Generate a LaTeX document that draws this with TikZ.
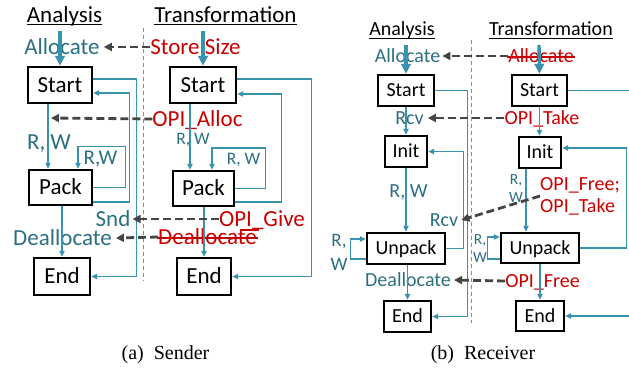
\documentclass[tikz,border=0pt]{standalone}
\usepackage{fontspec}
\setmainfont{Carlito}
\newfontfamily\capfont{Liberation Serif}
\usetikzlibrary{arrows.meta}

\definecolor{tealline}{HTML}{3A93AD}
\definecolor{tealtext}{HTML}{2B6F82}
\definecolor{opired}{HTML}{C80000}
\definecolor{hintgray}{HTML}{454545}
\definecolor{sepgray}{HTML}{8A8A8A}

\begin{document}
\begin{tikzpicture}[x=1pt,y=-1pt,
  lbl/.style={inner sep=0pt},
  fA/.style={font=\fontsize{23}{27}\selectfont, text height=14.8pt, text depth=0pt},
  fB/.style={font=\fontsize{20}{24}\selectfont, text height=12.9pt, text depth=0pt},
  fM/.style={font=\fontsize{21}{25}\selectfont, text height=13.5pt, text depth=0pt},
  fS/.style={font=\fontsize{17.5}{21}\selectfont, text height=11.3pt, text depth=0pt},
  box/.style={draw=black, line width=2.4pt, inner sep=0pt},
  ana/.style={lbl, text=tealtext},
  opi/.style={lbl, text=opired},
  hdr/.style={lbl, anchor=base},
  uline/.style={line width=1.3pt},
  strike/.style={draw=opired, line width=1.2pt},
  flow/.style={draw=tealline, line width=1.3pt, -{Triangle[length=6pt,width=5.5pt]}},
  entry/.style={draw=tealline, line width=3.4pt, -{Triangle[length=10pt,width=9.5pt]}},
  hint/.style={draw=hintgray, line width=2.8pt, dash pattern=on 8pt off 4pt, -{Triangle[length=8pt,width=8pt]}},
  sep/.style={draw=sepgray, line width=0.9pt, dash pattern=on 4pt off 3pt},
  captext/.style={lbl, font=\capfont\fontsize{20}{24}\selectfont},
]
\useasboundingbox (0,0) rectangle (629,367);
\clip (0,0) rectangle (629,367);

% separators between analysis and transformation
\draw[sep] (143,28) -- (143,281);
\draw[sep] (471,40) -- (471,323);

% ---------------- (a) Sender ----------------
\node[hdr, font=\fontsize{23}{27}\selectfont] (hA1) at (64.5,22) {Analysis};
\node[hdr, font=\fontsize{23}{27}\selectfont] (hA2) at (225.5,22) {Transformation};
\draw[uline] ([yshift=-2.5pt]hA1.base west) -- ([yshift=-2.5pt]hA1.base east);
\draw[uline] ([yshift=-2.5pt]hA2.base west) -- ([yshift=-2.5pt]hA2.base east);

\node[box, fA, minimum width=64pt, minimum height=36pt] (sA) at (60,85) {Start};
\node[box, fA, minimum width=63pt, minimum height=35pt] (pA) at (60.5,187.5) {Pack};
\node[box, fA, minimum width=56pt, minimum height=37pt] (eA) at (62,276.5) {End};
\node[box, fA, minimum width=66pt, minimum height=36pt] (sT) at (203,85) {Start};
\node[box, fA, minimum width=61pt, minimum height=35pt] (pT) at (203.5,188.5) {Pack};
\node[box, fA, minimum width=54pt, minimum height=37pt] (eT) at (204,276.5) {End};

\node[ana, fA] (allocA) at (62,47) {Allocate};
\node[opi, fA] (storeT) at (195.5,47) {Store Size};
\node[opi, fA] (opiAlloc) at (197.5,119) {OPI\_Alloc};
\node[ana, fA] (rwA1) at (49,142) {R, W};
\node[ana, fM] (rwA2) at (100.5,158) {R,W};
\node[ana, fS] (rwT1) at (193,139) {R, W};
\node[ana, fS] (rwT2) at (243.5,159) {R, W};
\node[ana, fA] (snd) at (113,219) {Snd};
\node[ana, fA] (deallocA) at (62.5,238) {Deallocate};
\node[opi, fA] (opiGive) at (262,219) {OPI\_Give};
\node[opi, fA] (deallocT) at (207.5,237) {Deallocate};
\draw[strike] ([xshift=-1pt,yshift=-1pt]deallocT.west) -- ([xshift=1pt,yshift=-1pt]deallocT.east);
\draw[strike] ([xshift=-17pt,yshift=7pt]deallocT.east) -- ([xshift=2pt,yshift=7pt]deallocT.east);

\coordinate (inA) at (60,31);
\coordinate (inT) at (203,31);
\draw[entry] (inA) -- (sA.north);
\draw[entry] (inT) -- (sT.north);

% analysis flow
\draw[flow] ([xshift=-12pt]sA.south) -- ([xshift=-12pt]sA.south |- pA.north);
\draw[flow] (pA.south -| eA.north) -- (eA.north);
\draw[flow] ([yshift=6pt]sA.east) -- ++(43,0) |- (eA.east);
\draw[flow] ([yshift=-14.5pt]pA.east) -- ++(36,0) |- ([yshift=-8pt]sA.east);
\draw[flow] (pA.east) -- ++(32,0) -- ++(0,-41) -| ([xshift=17.5pt]pA.north);

% transformation flow
\draw[flow] ([xshift=-13pt]sT.south) -- ([xshift=-13pt]sT.south |- pT.north);
\draw[flow] (pT.south -| eT.north) -- (eT.north);
\draw[flow] ([yshift=6pt]sT.east) -- ++(74,0) |- (eT.east);
\draw[flow] ([yshift=-13.5pt]pT.east) -- ++(46,0) |- ([yshift=-9pt]sT.east);
\draw[flow] (pT.east) -- ++(30,0) -- ++(0,-40.5) -| ([xshift=8.5pt]pT.north);

% OPI hints
\coordinate (allocTip) at (51,118);
\draw[hint] (storeT.west) -- ([xshift=4pt]allocA.east);
\draw[hint] (opiAlloc.west) -- (allocTip);
\draw[hint] (opiGive.west) -- ([xshift=2pt]snd.east);
\draw[hint] (deallocT.west) -- ([xshift=4pt]deallocA.east);

\node[captext] (capA) at (165.5,355) {(a)\enspace Sender};

% ---------------- (b) Receiver ----------------
\node[hdr, font=\fontsize{20}{24}\selectfont] (hB1) at (402,35.5) {Analysis};
\node[hdr, font=\fontsize{20}{24}\selectfont] (hB2) at (551,35.5) {Transformation};
\draw[uline] ([yshift=-3pt]hB1.base west) -- ([yshift=-3pt]hB1.base east);
\draw[uline] ([yshift=-3pt]hB2.base west) -- ([yshift=-3pt]hB2.base east);

\node[box, fB, minimum width=56pt, minimum height=31pt] (sB) at (406,90.5) {Start};
\node[box, fB, minimum width=42pt, minimum height=31pt] (iB) at (406,151.5) {Init};
\node[box, fB, minimum width=78pt, minimum height=31pt] (uB) at (406,248.5) {Unpack};
\node[box, fB, minimum width=47pt, minimum height=31pt] (eB) at (407.5,316.5) {End};
\node[box, fB, minimum width=55pt, minimum height=31pt] (sR) at (539.5,90.5) {Start};
\node[box, fB, minimum width=42pt, minimum height=31pt] (iR) at (540,152.5) {Init};
\node[box, fB, minimum width=78pt, minimum height=30pt] (uR) at (540,248) {Unpack};
\node[box, fB, minimum width=48pt, minimum height=30pt] (eR) at (540,316) {End};

\node[ana, fB] (allocB) at (407.5,56) {Allocate};
\node[opi, fB] (allocR) at (541,56) {Allocate};
\draw[strike] ([xshift=-1pt,yshift=-1pt]allocR.west) -- ([xshift=1pt,yshift=-1pt]allocR.east);
\node[ana, fB] (rcvB1) at (409.5,118) {Rcv};
\node[opi, fB] (opiTake) at (542,118) {OPI\_Take};
\node[ana, fB] (rwB1) at (408.5,191) {R, W};
\node[ana, fB] (rcvB2) at (444,220) {Rcv};
\node[opi, anchor=west, align=left, font=\fontsize{20}{22}\selectfont] (opiFT) at (540,196) {OPI\_Free;\\OPI\_Take};
\node[ana, align=center, font=\fontsize{15.5}{18}\selectfont] (rwR1) at (516,189) {R,\\W};
\node[ana, align=center, font=\fontsize{19}{24}\selectfont] (rwB2) at (339,252) {R,\\W};
\node[ana, align=center, font=\fontsize{15.5}{18}\selectfont] (rwR2) at (480,249) {R,\\W};
\node[ana, fB] (deallocB) at (408,280) {Deallocate};
\node[opi, fB] (opiFree) at (542.5,281) {OPI\_Free};

\coordinate (inB) at (406,45);
\coordinate (inR) at (539,45);
\draw[entry] (inB) -- (sB.north);
\draw[entry] (inR) -- (sR.north);

% analysis flow
\draw[flow] (sB.south) -- (iB.north);
\draw[flow] (iB.south) -- (uB.north);
\draw[flow] (uB.south -| eB.north) -- (eB.north);
\draw[flow] (sB.east) -- ++(32,0) |- (eB.east);
\draw[flow] (uB.east) -- ++(17,0) |- (iB.east);
\draw[flow] ([yshift=-10.5pt]uB.west) -- ++(-15,0) |- ([yshift=9.5pt]uB.west);

% transformation flow
\draw[flow] (sR.south) -- (sR.south |- iR.north);
\draw[flow] ([xshift=-14pt]iR.south) -- ([xshift=-14pt]iR.south |- uR.north);
\draw[flow] (uR.south) -- (eR.north);
\draw[flow] (sR.east) -- ++(90,0) |- (eR.east);
\draw[flow] (uR.east) -- ++(46,0) |- ([yshift=4.5pt]iR.east);
\draw[flow] ([yshift=-11pt]uR.west) -- ++(-12,0) |- ([yshift=11pt]uR.west);

% OPI hints
\draw[hint] (allocR.west) -- ([xshift=2pt]allocB.east);
\draw[hint] (opiTake.west) -- ([xshift=4pt]rcvB1.east);
\draw[hint] (opiFT.west) -- ([xshift=3pt]rcvB2.east);
\draw[hint] (opiFree.west) -- ([xshift=3pt]deallocB.east);

\node[captext] (capB) at (483,355) {(b)\enspace Receiver};
\end{tikzpicture}
\end{document}
